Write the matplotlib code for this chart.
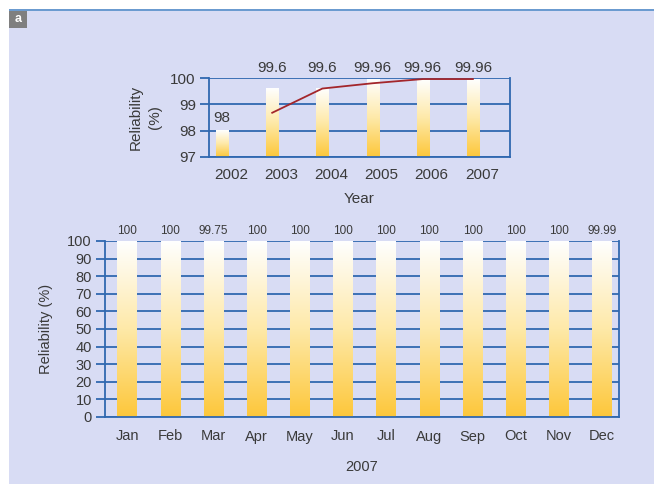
import numpy as np
import matplotlib
matplotlib.use("Agg")
import matplotlib.pyplot as plt
from matplotlib.colors import LinearSegmentedColormap
from matplotlib.patches import Rectangle

plt.rcParams['font.family'] = ['Liberation Sans', 'DejaVu Sans']

# yearly data (top panel)
years = ['2002', '2003', '2004', '2005', '2006', '2007']
year_rel = [98, 99.6, 99.6, 99.96, 99.96, 99.96]
year_labels = ['98', '99.6', '99.6', '99.96', '99.96', '99.96']
trend_idx = [1, 2, 3, 4, 5]
trend_rel = [98.68, 99.6, 99.8, 99.96, 99.96]

# monthly data for 2007 (bottom panel)
months = ['Jan', 'Feb', 'Mar', 'Apr', 'May', 'Jun', 'Jul', 'Aug', 'Sep', 'Oct', 'Nov', 'Dec']
month_rel = [100, 100, 99.75, 100, 100, 100, 100, 100, 100, 100, 100, 99.99]
month_labels = ['100', '100', '99.75', '100', '100', '100', '100', '100', '100', '100', '100', '99.99']

BG = '#d8dcf4'
BLUE = '#3068b0'
TXT = '#3a3a3a'
grad_cmap = LinearSegmentedColormap.from_list('grad', ['#fdc73a', '#fee9a8', '#ffffff'])
grad = np.linspace(0, 1, 256).reshape(-1, 1)

fig = plt.figure(figsize=(6.54, 4.84), dpi=100)
fig.patch.set_facecolor('white')

# panel background, top rule and the "a" tag
fig.add_artist(Rectangle((9 / 654, 0), 1, 1 - 11 / 484, transform=fig.transFigure,
                         facecolor=BG, edgecolor='none', zorder=0))
fig.add_artist(Rectangle((9 / 654, 1 - 11 / 484), 1, 2 / 484, transform=fig.transFigure,
                         facecolor='#6b9bd0', edgecolor='none', zorder=0))
fig.add_artist(Rectangle((9 / 654, 1 - 28 / 484), 18 / 654, 17 / 484, transform=fig.transFigure,
                         facecolor='#7f7f7f', edgecolor='none', zorder=1))
fig.text(18 / 654, 1 - 19.5 / 484, 'a', color='white', fontsize=9, fontweight='bold',
         ha='center', va='center')


def style_axes(ax, ticks):
    ax.set_facecolor('none')
    ax.set_yticks(ticks)
    ax.grid(axis='y', color=BLUE, lw=1.3, zorder=1)
    ax.set_axisbelow(True)
    for s in ['left', 'right', 'bottom']:
        ax.spines[s].set_color(BLUE)
        ax.spines[s].set_linewidth(1.3)
    ax.spines['top'].set_visible(False)
    ax.tick_params(axis='y', length=6.5, width=1.3, color=BLUE, labelcolor=TXT, pad=3)
    ax.tick_params(axis='x', length=0, labelcolor=TXT)


def fill_gradient(ax, bars):
    for b in bars:
        x0, y0 = b.get_x(), b.get_y()
        ax.imshow(grad, extent=[x0, x0 + b.get_width(), y0, y0 + b.get_height()],
                  origin='lower', aspect='auto', cmap=grad_cmap, zorder=2)
        b.set_visible(False)


# ---- top panel: reliability by year
ax1 = fig.add_axes([209 / 654, 1 - 157 / 484, 301 / 654, 79 / 484])
base = 97
bars1 = ax1.bar(range(len(years)), np.array(year_rel) - base, bottom=base, width=0.24)
fill_gradient(ax1, bars1)
ax1.plot(trend_idx, trend_rel, color='#a3262b', lw=1.3, zorder=3)
for i, (v, t) in enumerate(zip(year_rel, year_labels)):
    # labels sit just over short bars, and in one row above the frame otherwise
    ty = v + 0.2 if v < 99.5 else 100.1
    ax1.text(i, ty, t, ha='center', va='bottom', fontsize=11, color=TXT)
style_axes(ax1, [97, 98, 99, 100])
ax1.set_xticks(np.arange(len(years)) + 0.18)
ax1.set_xticklabels(years)
ax1.tick_params(axis='both', labelsize=11)
ax1.tick_params(axis='x', pad=8)
ax1.set_xlim(-0.26, 5.74)
ax1.set_ylim(97, 100)
ax1.set_xlabel('Year', fontsize=11, color=TXT, labelpad=7)
ax1.set_ylabel('Reliability\n(%)', fontsize=11, color=TXT, linespacing=1.5)
ax1.yaxis.set_label_coords(-0.155, 0.5)

# ---- bottom panel: reliability by month, 2007
ax2 = fig.add_axes([105 / 654, 1 - 417 / 484, 514 / 654, 176 / 484])
bars2 = ax2.bar(range(len(months)), month_rel, width=0.45)
fill_gradient(ax2, bars2)
for i, (v, t) in enumerate(zip(month_rel, month_labels)):
    ax2.annotate(t, (i, v), xytext=(0, 3), textcoords='offset points',
                 ha='center', va='bottom', fontsize=8.5, color=TXT)
style_axes(ax2, range(0, 101, 10))
ax2.set_xticks(range(len(months)))
ax2.set_xticklabels(months)
ax2.tick_params(axis='both', labelsize=10.5)
ax2.tick_params(axis='x', pad=9)
ax2.set_xlim(-0.51, 11.39)
ax2.set_ylim(0, 100)
ax2.set_xlabel('2007', fontsize=10.5, color=TXT, labelpad=12)
ax2.set_ylabel('Reliability (%)', fontsize=10.5, color=TXT)
ax2.yaxis.set_label_coords(-0.101, 0.5)

fig.savefig('out.png', dpi=100)
